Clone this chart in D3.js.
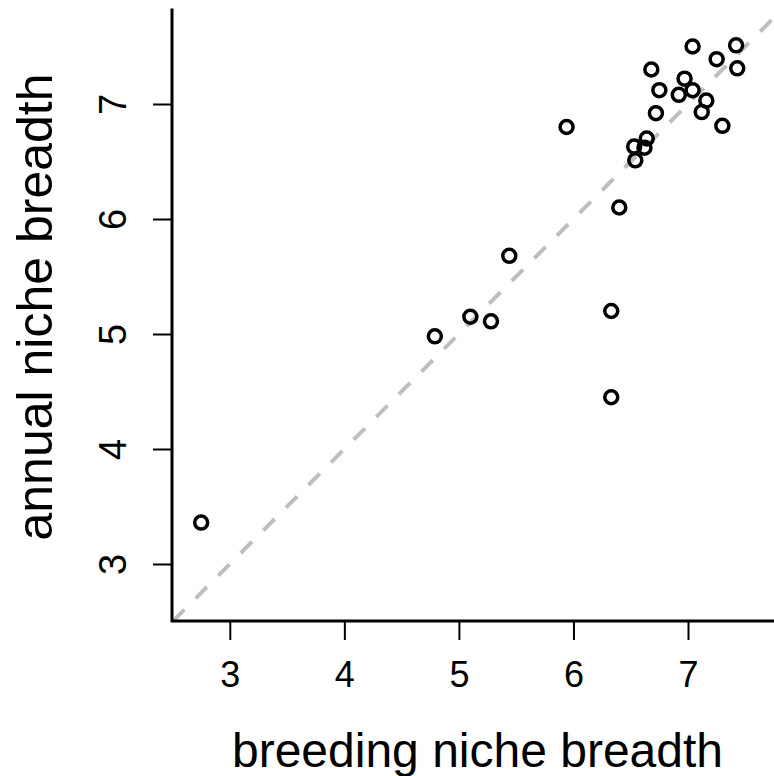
<!DOCTYPE html>
<html>
<head>
<meta charset="utf-8">
<script src="https://cdn.jsdelivr.net/npm/d3@7"></script>
<style>
  html, body { margin: 0; padding: 0; background: #fff; }
  svg { display: block; }
  text { font-family: "Liberation Sans", Arial, Helvetica, sans-serif; fill: #000; }
</style>
</head>
<body>
<svg id="chart" width="774" height="776"></svg>
<script>
// Data
const breeding = [2.75, 4.79, 5.10, 5.28, 5.44, 5.94, 6.33, 6.33, 6.40, 6.53, 6.54, 6.62, 6.64,
                  6.68, 6.72, 6.75, 6.92, 6.97, 7.04, 7.04, 7.12, 7.16, 7.25, 7.30, 7.42, 7.43];
const annual   = [3.36, 4.98, 5.15, 5.11, 5.68, 6.80, 5.20, 4.45, 6.10, 6.63, 6.51, 6.62, 6.70,
                  7.30, 6.92, 7.12, 7.08, 7.22, 7.50, 7.12, 6.93, 7.03, 7.39, 6.81, 7.51, 7.31];
const xTicks = [3, 4, 5, 6, 7];
const yTicks = [3, 4, 5, 6, 7];
const xLabel = "breeding niche breadth";
const yLabel = "annual niche breadth";

const svg = d3.select("#chart");

// plot region
const pLeft = 172, pRight = 783, pTop = 10, pBottom = 621;

const x = d3.scaleLinear().domain([3, 7]).range([229.8, 688]);
const y = d3.scaleLinear().domain([3, 7]).range([564, 104]);

const xMin = x.invert(pLeft), xMax = x.invert(pRight);
const yMin = y.invert(pBottom), yMax = y.invert(pTop);

// clip path for plot region
svg.append("defs").append("clipPath").attr("id", "plotclip")
  .append("rect").attr("x", pLeft).attr("y", pTop)
  .attr("width", pRight - pLeft).attr("height", pBottom - pTop);

// 1:1 dashed line
const lo = Math.max(xMin, yMin), hi = Math.min(xMax, yMax) + 0.5;
svg.append("line")
  .attr("clip-path", "url(#plotclip)")
  .attr("x1", x(lo)).attr("y1", y(lo))
  .attr("x2", x(hi)).attr("y2", y(hi))
  .attr("stroke", "#bebebe")
  .attr("stroke-width", 4)
  .attr("stroke-linecap", "butt")
  .attr("stroke-dasharray", "16,16");

// points
const pts = breeding.map((b, i) => ({ b, a: annual[i] }));
svg.append("g").selectAll("circle").data(pts).join("circle")
  .attr("cx", d => x(d.b))
  .attr("cy", d => y(d.a))
  .attr("r", 6.5)
  .attr("fill", "none")
  .attr("stroke", "#000")
  .attr("stroke-width", 3.5);

// axes (custom styling to match R base graphics)
const xAxis = d3.axisBottom(x).tickValues(xTicks).tickSize(19).tickPadding(0).tickFormat(d3.format("d"));
const gx = svg.append("g").attr("transform", `translate(0,${pBottom})`).call(xAxis);
gx.select(".domain").remove();
gx.selectAll(".tick line").attr("stroke", "#000").attr("stroke-width", 2);
gx.selectAll(".tick text").attr("font-size", 36).attr("dy", null).attr("y", 66)
  .attr("font-family", "Liberation Sans, Arial, sans-serif");

const yAxis = d3.axisLeft(y).tickValues(yTicks).tickSize(19).tickPadding(0).tickFormat(d3.format("d"));
const gy = svg.append("g").attr("transform", `translate(${pLeft},0)`).call(yAxis);
gy.select(".domain").remove();
gy.selectAll(".tick line").attr("stroke", "#000").attr("stroke-width", 2);
gy.selectAll(".tick text")
  .attr("font-size", 38)
  .attr("x", null).attr("dy", null)
  .attr("text-anchor", "middle")
  .attr("transform", "translate(-46,0) rotate(-90)")
  .attr("font-family", "Liberation Sans, Arial, sans-serif");

// L-shaped box
svg.append("path")
  .attr("d", `M${pLeft},${pTop} L${pLeft},${pBottom} L${pRight},${pBottom}`)
  .attr("fill", "none").attr("stroke", "#000").attr("stroke-width", 3)
  .attr("stroke-linecap", "square");

// axis titles
svg.append("text")
  .attr("x", (pLeft + pRight) / 2).attr("y", 767)
  .attr("text-anchor", "middle").attr("font-size", 48)
  .text(xLabel);

svg.append("text")
  .attr("transform", `translate(52,307) rotate(-90)`)
  .attr("text-anchor", "middle").attr("font-size", 50)
  .text(yLabel);
</script>
</body>
</html>
